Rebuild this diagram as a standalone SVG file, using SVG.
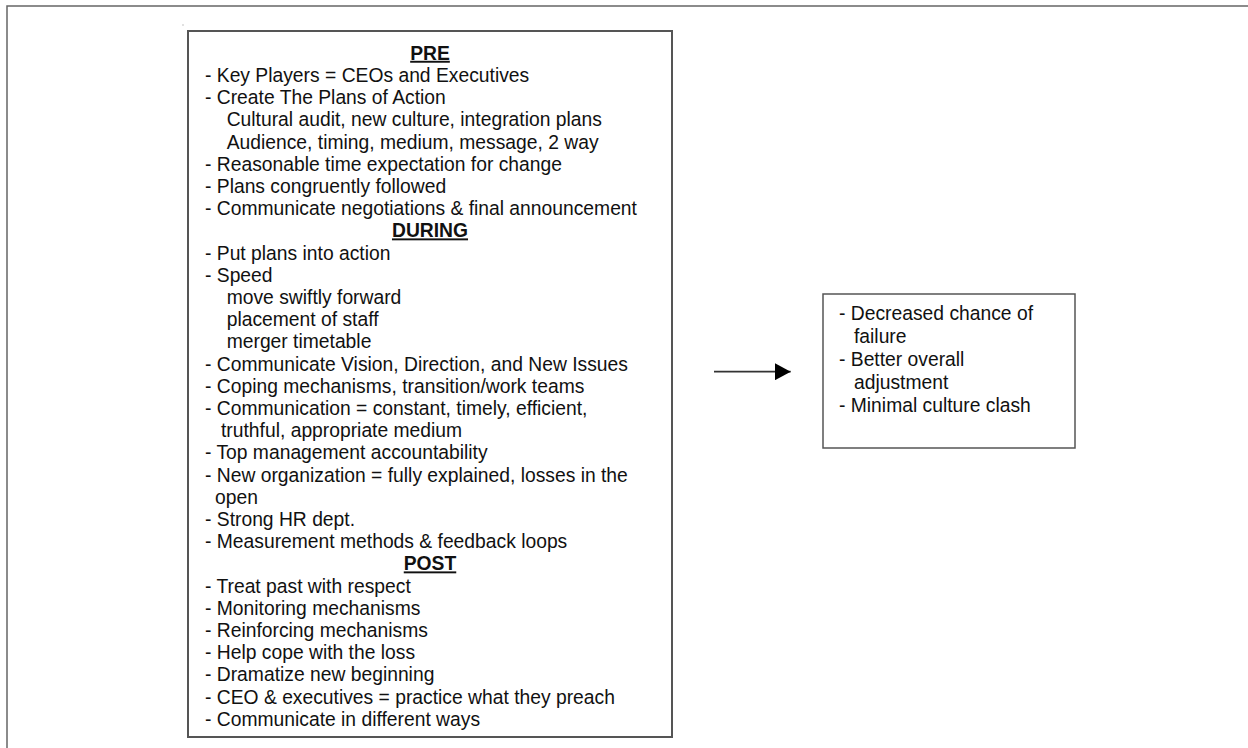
<svg xmlns="http://www.w3.org/2000/svg" width="1248" height="748" viewBox="0 0 1248 748">
<style>
.t{font-family:"Liberation Sans",Arial,sans-serif;font-size:19.3px;fill:#111;}
.h{font-weight:bold;text-anchor:middle;text-decoration:underline;}
.box{fill:#fff;stroke:#555;stroke-width:2;}
.frame{stroke:#666;stroke-width:1.5;fill:none;}
</style>
<defs>
<marker id="ah" markerWidth="16" markerHeight="17" refX="15.7" refY="8.5" orient="auto" markerUnits="userSpaceOnUse">
<path d="M0,0 L15.7,8.5 L0,17 Z" fill="#000"/>
</marker>
</defs>
<rect width="1248" height="748" fill="#fff"/>
<path class="frame" d="M7,748 V6 H1248"/>
<rect x="182.5" y="24.5" width="1" height="1" fill="#888"/>
<g id="left-box">
<rect class="box" x="188" y="31" width="484" height="706"/>
<text class="t h" x="430" y="59.8">PRE</text>
<text class="t" x="205" y="82">- Key Players = CEOs and Executives</text>
<text class="t" x="205" y="104.2">- Create The Plans of Action</text>
<text class="t" x="226.7" y="126.4">Cultural audit, new culture, integration plans</text>
<text class="t" x="226.7" y="148.6">Audience, timing, medium, message, 2 way</text>
<text class="t" x="205" y="170.8">- Reasonable time expectation for change</text>
<text class="t" x="205" y="193">- Plans congruently followed</text>
<text class="t" x="205" y="215.2">- Communicate negotiations &amp; final announcement</text>
<text class="t h" x="430" y="237.4">DURING</text>
<text class="t" x="205" y="259.6">- Put plans into action</text>
<text class="t" x="205" y="281.8">- Speed</text>
<text class="t" x="226.7" y="304">move swiftly forward</text>
<text class="t" x="226.7" y="326.2">placement of staff</text>
<text class="t" x="226.7" y="348.4">merger timetable</text>
<text class="t" x="205" y="370.6">- Communicate Vision, Direction, and New Issues</text>
<text class="t" x="205" y="392.8">- Coping mechanisms, transition/work teams</text>
<text class="t" x="205" y="415">- Communication = constant, timely, efficient,</text>
<text class="t" x="221" y="437.2">truthful, appropriate medium</text>
<text class="t" x="205" y="459.4">- Top management accountability</text>
<text class="t" x="205" y="481.6">- New organization = fully explained, losses in the</text>
<text class="t" x="215" y="503.8">open</text>
<text class="t" x="205" y="526">- Strong HR dept.</text>
<text class="t" x="205" y="548.2">- Measurement methods &amp; feedback loops</text>
<text class="t h" x="430" y="570.4">POST</text>
<text class="t" x="205" y="592.6">- Treat past with respect</text>
<text class="t" x="205" y="614.8">- Monitoring mechanisms</text>
<text class="t" x="205" y="637">- Reinforcing mechanisms</text>
<text class="t" x="205" y="659.2">- Help cope with the loss</text>
<text class="t" x="205" y="681.4">- Dramatize new beginning</text>
<text class="t" x="205" y="703.6">- CEO &amp; executives = practice what they preach</text>
<text class="t" x="205" y="725.8">- Communicate in different ways</text>
</g>
<g id="right-box">
<rect class="box" x="823" y="294" width="252" height="154" style="stroke-width:1.5"/>
<text class="t" x="839" y="320">- Decreased chance of</text>
<text class="t" x="854" y="343">failure</text>
<text class="t" x="839" y="366">- Better overall</text>
<text class="t" x="854" y="389">adjustment</text>
<text class="t" x="839" y="412">- Minimal culture clash</text>
</g>
<g id="connectors">
<line x1="714" y1="371.7" x2="790.7" y2="371.7" stroke="#333" stroke-width="1.8" marker-end="url(#ah)"/>
</g>
</svg>
